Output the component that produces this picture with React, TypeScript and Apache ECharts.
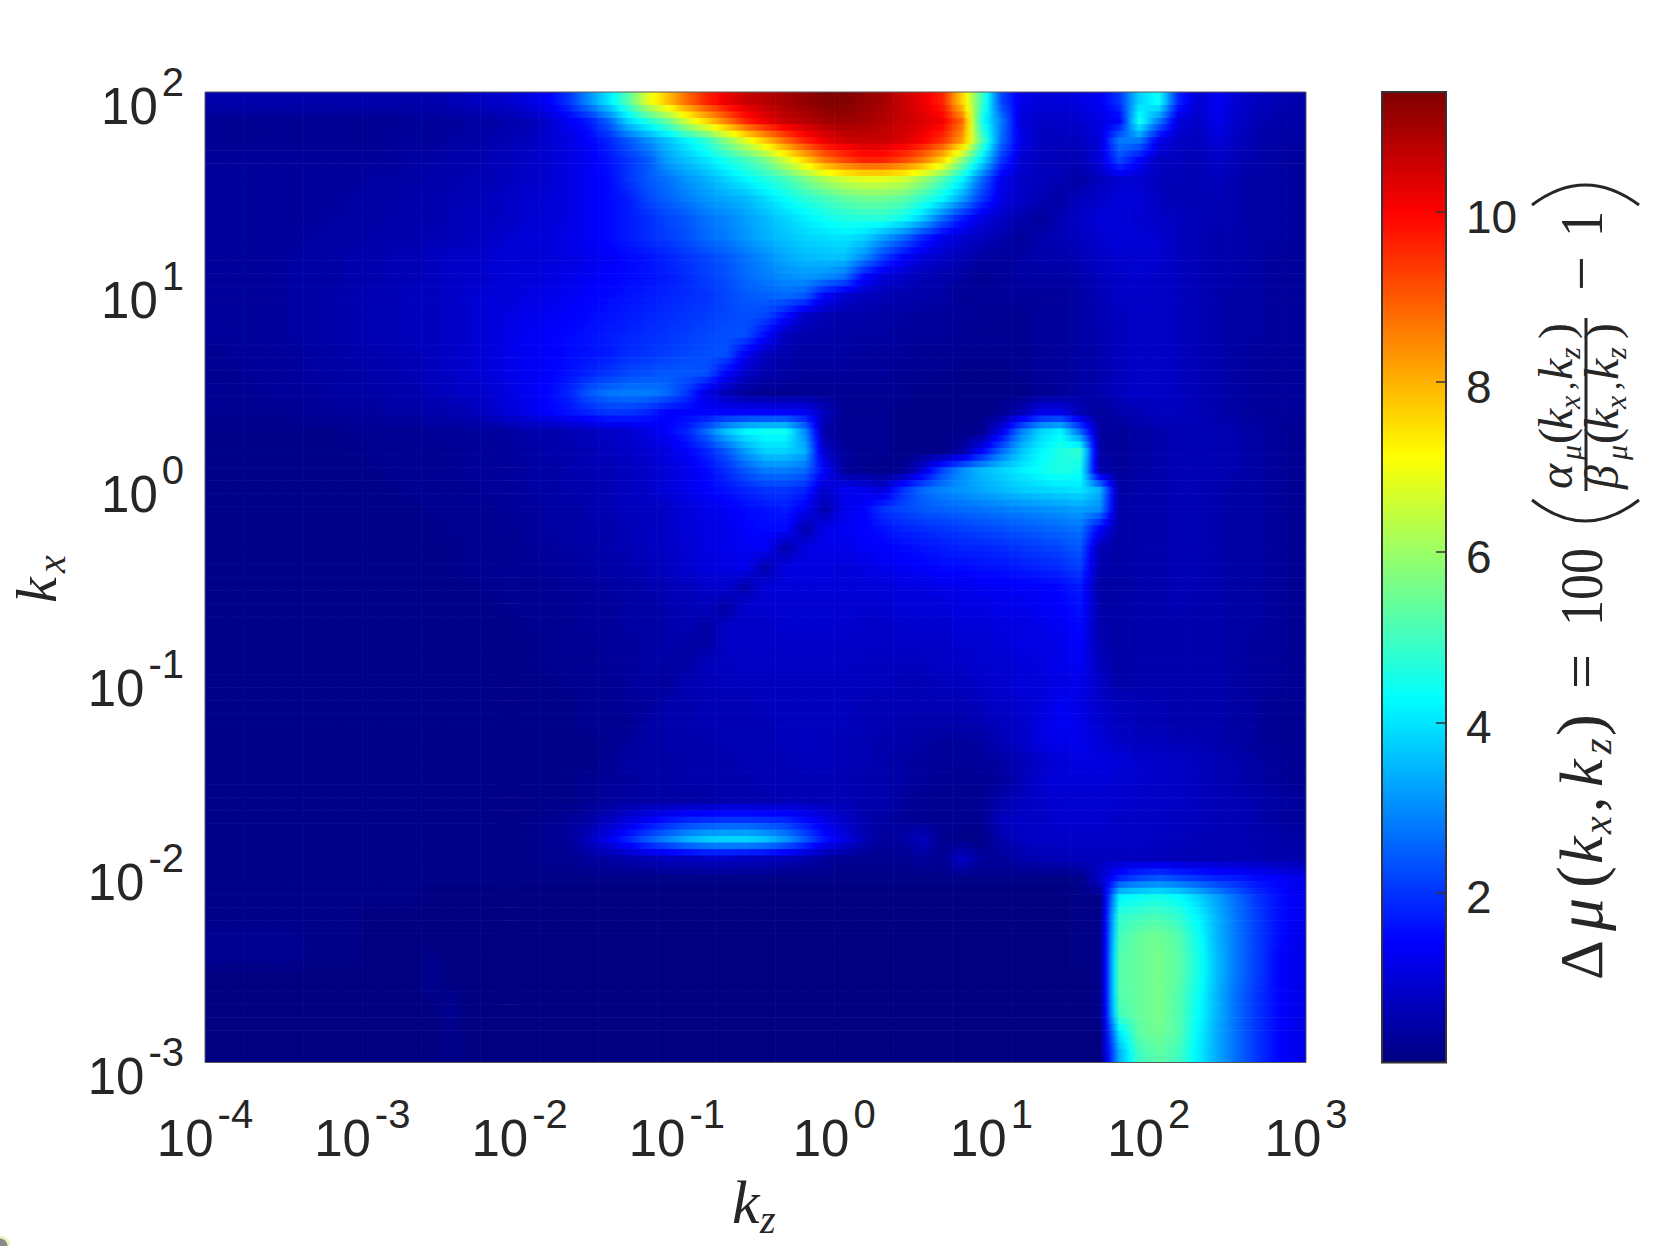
import React, { useEffect, useRef } from "react";
import * as echarts from "echarts";

const kzExponents = [-4, -3, -2, -1, 0, 1, 2, 3];
const kxExponents = [-3, -2, -1, 0, 1, 2];
const colorbarTicks = [2, 4, 6, 8, 10];
const JET = ["#000080", "#0000ff", "#0080ff", "#00ffff", "#80ff80", "#ffff00", "#ff8000", "#ff0000", "#800000"];
const V_MAX = 11.41;
const INK = "#262626";

// Delta-mu in tenths. Rows run from kx = 10^2 down, 10 per decade; columns from kz = 10^-4, 8 per decade.
const deltaMuTenths: number[][] = [
[5,5,5,5,5,5,5,5,5,5,5,5,6,7,8,9, 11,14,20,30,40,52,68,78,88,96,102,106,108,110,112,114, 114,112,110,106,102,96,76,50,22,12,10,10,11,13,20,38,44,18,9,13,9,7,6,5],
[2,2,2,2,2,2,2,2,2,2,3,3,3,4,4,5, 6,9,13,17,25,38,46,54,66,76,86,96,102,106,108,110, 111,110,108,106,104,101,88,45,28,10,8,8,9,11,14,45,28,10,8,12,8,6,5,4],
[2,2,2,2,2,2,2,2,2,3,3,3,4,4,5,6, 7,9,11,14,18,24,30,36,42,48,58,68,78,88,96,102, 105,106,106,104,100,94,82,52,26,12,7,7,7,10,28,28,12,8,7,10,7,5,4,4],
[3,3,3,3,3,3,3,3,3,3,4,4,5,5,6,7, 8,9,11,13,16,20,24,32,36,40,45,50,56,66,76,86, 92,96,96,92,86,76,58,40,20,9,7,6,6,10,22,14,7,7,6,8,6,5,4,3],
[3,3,3,3,3,3,3,3,4,4,4,5,5,6,6,7, 8,9,11,13,15,20,24,27,31,34,38,42,46,50,56,62, 66,68,68,66,60,52,42,26,12,8,7,6,4,7,9,9,7,6,6,7,5,4,4,3],
[3,3,3,3,3,3,3,4,4,4,5,5,6,6,7,8, 9,10,11,13,15,17,22,25,28,31,33,35,39,43,47,50, 53,55,55,53,48,42,32,20,11,8,6,4,7,8,10,10,7,6,6,6,5,4,4,3],
[3,3,3,3,3,3,4,4,4,5,5,5,6,7,7,8, 9,10,11,13,15,17,19,22,24,27,29,32,35,38,41,44, 46,47,47,44,37,26,17,11,8,5,3,6,8,10,10,9,8,7,6,6,5,4,4,3],
[3,3,3,3,3,4,4,4,5,5,5,6,6,7,8,9, 10,10,12,13,15,17,19,21,23,26,28,31,34,36,38,39, 40,38,32,26,18,12,9,7,5,3,5,6,7,9,10,10,9,7,6,5,5,4,4,3],
[3,3,3,3,4,4,4,5,5,6,6,7,8,8,9,10, 9,10,11,12,13,15,16,18,20,22,24,27,30,33,35,36, 36,30,21,14,10,8,6,4,3,4,5,5,6,8,9,9,9,7,6,5,5,4,3,3],
[3,3,3,3,4,4,4,5,5,6,6,7,8,8,9,10, 10,11,12,13,14,15,16,17,19,21,23,26,28,30,31,30, 27,15,10,8,6,5,4,2,3,4,4,4,5,7,8,9,8,7,6,5,5,4,3,3],
[3,3,3,3,4,4,5,5,6,6,7,7,8,9,10,10, 11,12,13,14,15,16,17,18,19,20,22,24,25,26,24,14, 9,7,6,5,5,4,2,3,3,3,3,3,4,6,8,8,8,7,6,5,4,4,3,3],
[3,3,3,3,4,4,5,5,6,6,7,7,8,9,10,11, 12,13,14,15,16,17,18,19,20,21,22,23,22,16,8,6, 5,5,4,4,3,3,3,2,2,2,3,3,4,6,7,8,8,7,6,5,4,4,3,3],
[3,3,3,3,4,4,5,5,6,6,7,7,8,9,10,12, 13,14,15,16,17,18,19,20,21,22,23,23,15,7,5,5, 4,4,4,3,3,3,2,2,2,2,3,3,4,5,7,8,8,7,6,5,4,4,3,3],
[2,3,3,3,3,4,4,5,5,6,6,7,8,9,10,12, 13,14,15,16,17,19,20,21,22,23,23,13,7,5,4,4, 4,3,3,3,2,2,2,2,2,2,3,3,4,5,7,8,8,7,6,5,4,3,3,3],
[2,2,3,3,3,4,4,4,5,5,6,7,8,9,10,12, 13,14,16,18,20,22,23,24,24,23,14,8,5,4,3,3, 3,3,3,2,2,2,1,1,1,2,3,3,4,5,7,8,8,7,6,5,4,3,3,3],
[2,2,2,3,3,3,4,4,4,5,5,6,7,8,9,11, 13,15,18,24,27,28,28,26,20,11,6,3,2,2,2,2, 2,2,2,2,1,1,1,1,1,1,2,3,4,5,7,8,8,7,6,5,4,3,3,3],
[2,2,2,2,2,3,3,3,3,4,4,5,5,6,8,10, 12,14,16,18,20,20,18,14,14,14,14,14,14,14,13,7, 2,2,2,1,1,1,1,1,2,6,12,12,6,3,5,6,7,7,6,5,4,3,3,3],
[1,1,1,1,1,1,1,2,2,2,2,3,3,3,3,4, 5,5,6,7,8,9,11,14,18,26,36,42,44,44,30,4, 2,2,2,1,1,1,1,2,12,28,38,42,26,4,3,4,5,6,6,6,5,4,3,2],
[1,1,1,1,1,1,1,1,2,2,2,2,2,3,3,3, 4,5,5,6,7,8,9,11,14,18,24,32,38,38,34,8, 3,2,2,1,1,1,4,14,26,36,42,46,48,4,3,4,5,6,6,6,5,4,3,2],
[1,1,1,1,1,1,1,1,1,2,2,2,2,3,3,3, 4,4,5,6,6,7,8,10,12,15,19,24,28,28,26,14, 3,2,1,2,10,22,30,35,38,41,44,46,44,5,3,4,5,6,6,6,5,4,3,2],
[1,1,1,1,1,1,1,1,1,1,2,2,2,2,3,3, 4,4,5,5,6,7,8,10,12,14,16,18,20,20,18,8, 13,12,10,20,26,29,31,33,35,37,38,39,40,34,4,5,5,6,6,5,4,4,3,2],
[1,1,1,1,1,1,1,1,1,1,1,2,2,2,2,3, 3,4,4,5,6,7,7,8,10,12,13,15,16,17,13,5, 12,14,20,22,24,25,26,27,28,29,30,31,32,30,4,5,5,6,6,5,4,4,3,2],
[1,1,1,1,1,1,1,1,1,1,1,1,2,2,2,2, 3,4,4,5,5,6,7,8,10,11,12,14,15,15,5,12, 13,14,16,18,19,20,21,22,23,24,25,26,27,14,4,5,5,6,6,5,4,4,3,2],
[1,1,1,1,1,1,1,1,1,1,1,1,1,2,2,2, 3,3,4,4,5,6,7,8,9,11,12,13,13,5,11,12, 12,13,14,15,16,17,18,18,19,20,21,22,24,6,4,5,5,6,6,5,4,4,3,2],
[1,1,1,1,1,1,1,1,1,1,1,1,1,2,2,2, 2,3,3,4,4,5,6,7,9,10,11,12,5,11,11,11, 10,11,12,13,14,15,15,16,16,17,18,19,21,5,4,5,5,6,6,5,4,4,3,2],
[1,1,1,1,1,1,1,1,1,1,1,1,1,1,2,2, 2,2,3,3,4,4,5,6,7,8,9,5,10,10,10,10, 10,10,10,11,11,12,12,13,13,14,14,15,17,4,4,5,5,6,6,5,4,4,3,2],
[1,1,1,1,1,1,1,1,1,1,1,1,1,1,1,2, 2,2,2,3,3,4,4,5,6,7,4,9,9,9,9,9, 9,9,9,10,10,10,11,11,12,12,13,14,16,5,4,5,5,6,5,5,4,4,3,2],
[1,1,1,1,1,1,1,1,1,1,1,1,1,1,1,1, 2,2,2,3,3,4,4,5,6,4,8,8,8,9,9,9, 9,8,8,9,9,9,10,10,11,11,12,13,15,5,4,5,5,5,5,5,4,4,3,2],
[1,1,1,1,1,1,1,1,1,1,1,1,1,1,1,1, 1,2,2,2,3,3,4,5,4,4,8,8,8,8,8,8, 8,8,8,8,8,8,9,9,10,11,11,12,14,6,4,5,5,5,5,5,4,3,3,2],
[1,1,1,1,1,1,1,1,1,1,1,1,1,1,1,1, 1,2,2,2,3,3,4,4,4,7,7,8,8,8,8,8, 8,7,7,7,7,8,8,9,9,10,11,12,13,7,4,5,5,5,5,5,4,3,3,2],
[1,1,1,1,1,1,1,1,1,1,1,1,1,1,1,1, 1,1,2,2,2,3,4,3,6,6,7,7,7,7,7,7, 7,7,7,6,6,7,7,8,9,10,10,11,12,8,4,5,5,5,5,5,4,3,3,2],
[1,1,1,1,1,1,1,1,1,1,1,1,1,1,1,1, 1,1,1,2,2,3,3,5,5,6,6,6,7,7,7,7, 7,6,6,6,6,6,6,7,8,9,10,13,11,8,7,6,6,5,5,5,4,3,2,2],
[1,1,1,1,1,1,1,1,1,1,1,1,1,1,1,1, 1,1,1,2,2,2,4,5,5,6,6,6,6,7,7,7, 7,6,6,5,5,5,5,6,7,8,11,13,12,9,7,6,6,5,5,5,4,3,2,2],
[1,1,1,1,1,1,1,1,1,1,1,1,1,1,1,1, 1,1,1,1,2,3,4,5,5,5,6,6,6,7,7,7, 6,6,5,5,4,3,3,4,6,8,11,12,12,10,8,7,7,6,6,5,4,3,2,2],
[1,1,1,1,1,1,1,1,1,1,1,1,1,1,1,1, 1,1,1,1,2,4,4,4,5,5,5,6,6,6,7,7, 6,6,5,4,3,3,3,3,4,6,8,10,11,11,10,9,8,8,7,6,5,4,3,2],
[1,1,1,1,1,1,1,1,1,1,1,1,1,1,1,1, 1,1,1,2,3,3,4,4,5,5,5,5,6,6,6,6, 6,5,5,4,3,2,2,2,3,6,9,10,10,10,9,9,8,8,7,6,5,4,3,2],
[1,1,1,1,1,1,1,1,1,1,1,1,1,1,1,1, 1,1,1,2,3,4,4,4,4,4,5,5,5,6,6,6, 6,5,5,3,2,2,2,2,5,7,8,9,9,9,9,8,8,8,7,6,6,5,4,3],
[1,1,1,1,1,1,1,1,1,1,1,1,1,1,1,1, 1,2,3,4,7,10,13,16,18,19,20,20,19,18,15,11, 8,5,4,3,2,2,2,2,7,8,8,9,9,9,8,8,8,7,7,6,6,5,4,3],
[1,1,1,1,1,1,1,1,1,1,1,1,1,1,1,1, 1,2,3,7,12,18,24,29,34,37,38,38,36,31,24,16, 11,6,3,4,7,2,1,1,5,7,8,8,8,8,8,8,7,7,6,6,6,5,5,4],
[1,1,1,1,1,1,1,1,1,1,1,1,1,1,1,1, 1,2,2,3,4,5,6,7,7,8,8,7,7,6,5,3, 2,2,2,2,3,2,8,3,3,5,6,6,7,7,7,7,7,6,6,6,6,6,5,5],
[1,1,1,1,1,1,1,1,1,1,1,1,1,1,1,1, 1,1,1,1,1,1,1,1,1,1,1,1,1,1,1,1, 1,1,1,1,1,1,1,1,1,1,1,1,1,8,18,22,24,22,20,18,17,15,14,12],
[1,1,1,1,1,1,1,1,1,1,1,0,0,0,0,0, 0,0,0,0,0,0,0,0,0,0,0,0,0,0,0,0, 0,0,0,0,0,0,0,0,0,0,0,0,1,1,42,44,45,43,38,32,26,20,16,13],
[1,1,1,1,1,1,1,1,0,0,0,0,0,0,0,0, 0,0,0,0,0,0,0,0,0,0,0,0,0,0,0,0, 0,0,0,0,0,0,0,0,0,0,0,0,1,1,48,50,51,48,42,34,27,21,16,13],
[2,2,2,2,2,1,1,1,0,0,0,0,0,0,0,0, 0,0,0,0,0,0,0,0,0,0,0,0,0,0,0,0, 0,0,0,0,0,0,0,0,0,0,0,0,1,1,50,54,55,52,44,34,27,21,16,12],
[2,2,2,2,2,1,1,1,0,0,0,1,0,0,0,0, 0,0,0,0,0,0,0,0,0,0,0,0,0,0,0,0, 0,0,0,0,0,0,0,0,0,0,0,0,1,1,52,54,56,53,45,35,27,21,15,12],
[0,0,0,0,0,0,0,0,0,0,0,2,0,0,0,0, 0,0,0,0,0,0,0,0,0,0,0,0,0,0,0,0, 0,0,0,0,0,0,0,0,0,0,0,0,0,1,52,54,56,53,45,35,27,21,15,12],
[0,0,0,0,0,0,0,0,0,0,0,1,1,0,0,0, 0,0,0,0,0,0,0,0,0,0,0,0,0,0,0,0, 0,0,0,0,0,0,0,0,0,0,0,0,0,1,52,54,56,52,44,34,26,20,15,12],
[0,0,0,0,0,0,0,0,0,0,0,0,2,0,0,0, 0,0,0,0,0,0,0,0,0,0,0,0,0,0,0,0, 0,0,0,0,0,0,0,0,0,0,0,0,0,1,50,54,56,52,43,34,26,20,15,12],
[0,0,0,0,0,0,0,0,0,0,0,0,1,0,0,0, 0,0,0,0,0,0,0,0,0,0,0,0,0,0,0,0, 0,0,0,0,0,0,0,0,0,0,0,0,0,0,40,53,55,52,42,33,26,20,15,12],
[0,0,0,0,0,0,0,0,0,0,0,0,1,0,0,0, 0,0,0,0,0,0,0,0,0,0,0,0,0,0,0,0, 0,0,0,0,0,0,0,0,0,0,0,0,0,0,34,50,53,50,41,33,26,20,15,12],
];

const ROWS = deltaMuTenths.length;
const COLS = deltaMuTenths[0].length;
const SUB_ROWS = 3;
const PLOT = { left: 205, top: 92, right: 1306, bottom: 1062.5 };
const BAR = { left: 1382, right: 1446 };

const cells: number[][] = [];
deltaMuTenths.forEach((row, i) => {
  row.forEach((v, j) => {
    cells.push([
      Math.pow(10, -4 + j / 8),
      Math.pow(10, -4 + (j + 1) / 8),
      Math.pow(10, 2 - (i + 1) / 10),
      Math.pow(10, 2 - i / 10),
      v / 10,
      i,
      j,
    ]);
  });
});

const valueAt = (i: number, j: number) => {
  const r = deltaMuTenths[Math.max(0, Math.min(ROWS - 1, i))];
  const v = r[Math.max(0, Math.min(COLS - 1, j))];
  return (v === undefined ? r[r.length - 1] : v) / 10;
};
const jet = (v: number) => echarts.color.lerp(Math.max(0, Math.min(1, v / V_MAX)), JET) as string;

// Equivalent of MATLAB's "shading interp": each read cell is painted with a shade that blends toward its neighbours.
const renderCell = (_: any, api: any) => {
  const a = api.coord([api.value(0), api.value(3)]);
  const b = api.coord([api.value(1), api.value(2)]);
  const i = api.value(5);
  const j = api.value(6);
  const h = (b[1] - a[1]) / SUB_ROWS;
  const children: any[] = [];
  for (let k = 0; k < SUB_ROWS; k++) {
    const f = (k + 0.5) / SUB_ROWS - 0.5;
    const other = f < 0 ? i - 1 : i + 1;
    const w = Math.abs(f);
    const at = (c: number) => valueAt(i, c) * (1 - w) + valueAt(other, c) * w;
    const c = at(j);
    const l = (c + at(j - 1)) / 2;
    const r = (c + at(j + 1)) / 2;
    const fill =
      l === c && r === c
        ? jet(c)
        : new echarts.graphic.LinearGradient(0, 0, 1, 0, [
            { offset: 0, color: jet(l) },
            { offset: 0.25, color: jet((l + c) / 2) },
            { offset: 0.5, color: jet(c) },
            { offset: 0.75, color: jet((r + c) / 2) },
            { offset: 1, color: jet(r) },
          ]);
    children.push({
      type: "rect",
      shape: { x: a[0], y: a[1] + k * h, width: b[0] - a[0] + 0.6, height: h + 0.6 },
      style: { fill },
      silent: true,
    });
  }
  return { type: "group", children };
};

const SANS = '"Liberation Sans", Arial, sans-serif';
const SERIF = '"Liberation Serif", serif';
const tickRich = {
  b: { fontFamily: SANS, fontSize: 51, lineHeight: 70, color: INK, verticalAlign: "bottom" },
  s: { fontFamily: SANS, fontSize: 40, lineHeight: 70, color: INK, padding: [0, 0, 0, 4], verticalAlign: "top" },
};
const powerLabel = (v: number) => `{b|10}{s|${Math.round(Math.log10(v))}}`;

const span = (text: string, x: number, base: number, size: number, italic = false, scaleX = 1) => ({
  type: "text",
  x,
  y: base - 0.34 * size,
  scaleX,
  z: 30,
  style: {
    text,
    fill: INK,
    font: `${italic ? "italic " : ""}${size}px ${SERIF}`,
    align: "left",
    verticalAlign: "middle",
  },
});

const ratioParts = (first: string, base: number) => [
  span(first, 491, base, 48, true),
  span("μ", 520, base + 9, 30, true),
  span("(", 536, base, 48),
  span("k", 550, base, 48, true),
  span("x", 571, base + 8, 30, true),
  span(",", 590, base + 2, 34),
  span("k", 600, base, 48, true),
  span("z", 621, base + 8, 30, true),
  span(")", 641, base, 48),
];

const graphics: any[] = [
  { type: "rect", z: 20, silent: true, shape: { x: PLOT.left, y: PLOT.top, width: PLOT.right - PLOT.left, height: PLOT.bottom - PLOT.top }, style: { fill: "none", stroke: "#5a5a5a", lineWidth: 1 } },
  { type: "rect", z: 20, silent: true, shape: { x: BAR.left, y: PLOT.top, width: BAR.right - BAR.left, height: PLOT.bottom - PLOT.top }, style: { fill: "none", stroke: "#333333", lineWidth: 2 } },
  span("k", 732, 1223, 62, true),
  span("z", 760, 1233, 40, true),
  {
    type: "group",
    x: 56,
    y: 603,
    rotation: Math.PI / 2,
    children: [span("k", 0, 0, 58, true), span("x", 30, 9, 40, true)],
  },
  {
    type: "group",
    x: 1602,
    y: 980,
    rotation: Math.PI / 2,
    children: [
      span("Δ", 0, 0, 62),
      span("μ", 49, 0, 66, true),
      span("(", 92, 0, 66),
      span("k", 116, 0, 62, true),
      span("x", 146, 9, 40, true),
      span(",", 168, 0, 62),
      span("k", 193, 0, 62, true),
      span("z", 226, 9, 40, true),
      span(")", 244, 0, 66),
      span("=", 291, 0, 62),
      span("100", 354, 0, 62, false, 0.84),
      span("−", 689, 0, 62),
      span("1", 743, 0, 62, false, 0.84),
      ...ratioParts("α", -30),
      ...ratioParts("β", 16),
    ],
  },
  { type: "line", z: 30, silent: true, shape: { x1: 1586, y1: 318, x2: 1586, y2: 491 }, style: { stroke: INK, lineWidth: 3 } },
  { type: "bezierCurve", z: 30, silent: true, shape: { x1: 1532, y1: 500, cpx1: 1585, cpy1: 542, x2: 1639, y2: 500 }, style: { stroke: INK, lineWidth: 3, fill: "none" } },
  { type: "bezierCurve", z: 30, silent: true, shape: { x1: 1532, y1: 205, cpx1: 1585, cpy1: 165, x2: 1639, y2: 205 }, style: { stroke: INK, lineWidth: 3, fill: "none" } },
  { type: "circle", z: 30, silent: true, shape: { cx: 0, cy: 1246, r: 9 }, style: { fill: "#8a8a8a", stroke: "#f4f0c4", lineWidth: 3 } },
];

const option: any = {
  animation: false,
  backgroundColor: "#ffffff",
  grid: [
    { left: PLOT.left, top: PLOT.top, width: PLOT.right - PLOT.left, height: PLOT.bottom - PLOT.top },
    { left: BAR.left, top: PLOT.top, width: BAR.right - BAR.left, height: PLOT.bottom - PLOT.top },
  ],
  xAxis: [
    {
      type: "log",
      logBase: 10,
      gridIndex: 0,
      min: Math.pow(10, kzExponents[0]),
      max: Math.pow(10, kzExponents[kzExponents.length - 1]),
      splitNumber: kzExponents.length - 1,
      splitLine: { show: false },
      axisLine: { show: false },
      axisTick: { show: false },
      axisLabel: { margin: 31, interval: 0, hideOverlap: false, showMinLabel: true, showMaxLabel: true, formatter: powerLabel, rich: tickRich },
    },
    { type: "value", gridIndex: 1, show: false, min: 0, max: 1 },
  ],
  yAxis: [
    {
      type: "log",
      logBase: 10,
      gridIndex: 0,
      min: Math.pow(10, kxExponents[0]),
      max: Math.pow(10, kxExponents[kxExponents.length - 1]),
      splitNumber: kxExponents.length - 1,
      splitLine: { show: false },
      axisLine: { show: false },
      axisTick: { show: false },
      axisLabel: { margin: 21, padding: [9, 0, 0, 0], interval: 0, hideOverlap: false, showMinLabel: true, showMaxLabel: true, align: "right", formatter: powerLabel, rich: tickRich },
    },
    {
      type: "value",
      gridIndex: 1,
      position: "right",
      min: 0,
      max: V_MAX,
      interval: colorbarTicks[1] - colorbarTicks[0],
      z: 10,
      splitLine: { show: false },
      axisLine: { show: false, onZero: false },
      axisTick: { show: true, inside: true, length: 10, lineStyle: { color: "#333333", width: 1.5 } },
      axisLabel: {
        margin: 20,
        padding: [10, 0, 0, 0],
        showMinLabel: false,
        showMaxLabel: false,
        formatter: (v: number) => (colorbarTicks.indexOf(v) >= 0 ? `{t|${v}}` : ""),
        rich: { t: { fontFamily: SANS, fontSize: 46, lineHeight: 50, color: INK } },
      },
    },
  ],
  visualMap: {
    type: "continuous",
    min: 0,
    max: V_MAX,
    calculable: false,
    seriesIndex: 0,
    dimension: 4,
    left: BAR.left,
    top: PLOT.top,
    itemWidth: BAR.right - BAR.left,
    itemHeight: PLOT.bottom - PLOT.top,
    padding: 0,
    inRange: { color: JET },
  },
  series: [
    {
      type: "custom",
      coordinateSystem: "cartesian2d",
      xAxisIndex: 0,
      yAxisIndex: 0,
      clip: true,
      silent: true,
      z: 2,
      renderItem: renderCell,
      encode: { x: [0, 1], y: [2, 3] },
      data: cells,
    },
  ],
  graphic: { elements: graphics },
};

export default function App() {
  const ref = useRef<HTMLDivElement>(null);
  useEffect(() => {
    const chart = echarts.init(ref.current!, null, { renderer: "svg" });
    chart.setOption(option);
    return () => chart.dispose();
  }, []);
  return <div ref={ref} style={{ position: "absolute", left: 0, top: 0, width: 1661, height: 1246 }} />;
}
